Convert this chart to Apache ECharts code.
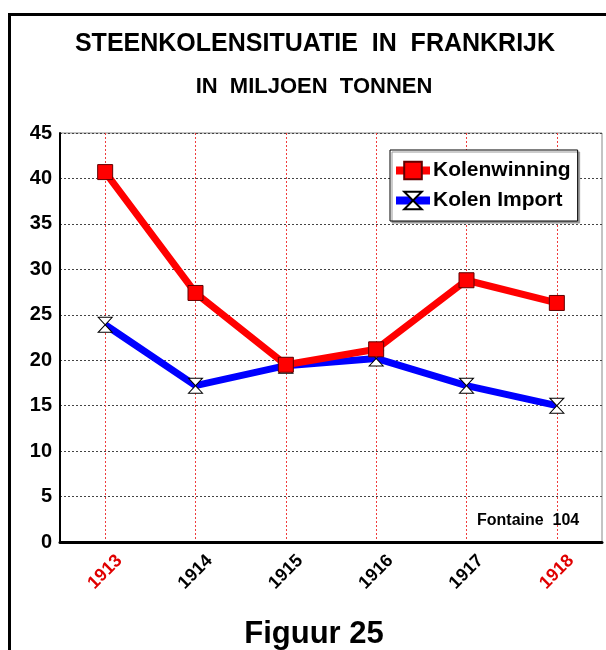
<!DOCTYPE html>
<html>
<head>
<meta charset="utf-8">
<script src="https://cdn.jsdelivr.net/npm/echarts@6/dist/echarts.min.js"></script>
<style>html,body{margin:0;padding:0;background:#fff}#c{width:606px;height:650px}</style>
</head>
<body>
<div id="c"></div>
<script>
const years = ['1913', '1914', '1915', '1916', '1917', '1918'];
const redYears = ['1913', '1918'];
const kolenwinning = [40.7, 27.4, 19.5, 21.2, 28.8, 26.3];
const kolenImport = [23.9, 17.2, 19.4, 20.2, 17.2, 15.0];
const yTicks = { min: 0, max: 45, interval: 5 };

const FONT = '"Liberation Sans", Arial, sans-serif';
const chart = echarts.init(document.getElementById('c'), null, { renderer: 'canvas' });
chart.setOption({
  animation: false,
  backgroundColor: '#fff',
  graphic: [
    { type: 'rect', z: 0, shape: { x: 9.5, y: 14.5, width: 700, height: 700 }, style: { fill: null, stroke: '#000', lineWidth: 3 } },
    { type: 'text', x: 315, y: 32, style: { text: 'STEENKOLENSITUATIE  IN  FRANKRIJK', font: 'bold 25px ' + FONT, fill: '#000', align: 'center', verticalAlign: 'top' } },
    { type: 'text', x: 314, y: 76, style: { text: 'IN  MILJOEN  TONNEN', font: 'bold 22px ' + FONT, fill: '#000', align: 'center', verticalAlign: 'top' } },
    { type: 'text', x: 477, y: 513, z: 10, style: { text: 'Fontaine  104', font: 'bold 16px ' + FONT, fill: '#000', align: 'left', verticalAlign: 'top' } },
    { type: 'text', x: 314, y: 619, style: { text: 'Figuur 25', font: 'bold 31px ' + FONT, fill: '#000', align: 'center', verticalAlign: 'top' } }
  ],
  grid: { left: 60, right: 4, top: 133, bottom: 108, show: true, borderColor: '#888', borderWidth: 1, backgroundColor: '#fff' },
  legend: {
    orient: 'vertical', left: 390, top: 150,
    padding: [10, 7, 10, 2], itemGap: 9, itemWidth: 34, itemHeight: 22,
    backgroundColor: '#fff', borderColor: '#000', borderWidth: 1,
    shadowColor: '#999', shadowOffsetX: 2, shadowOffsetY: 2, shadowBlur: 0,
    lineStyle: { width: 8 },
    textStyle: { fontFamily: FONT, fontWeight: 'bold', fontSize: 21, color: '#000', padding: [0, 0, 0, -2] },
    data: ['Kolenwinning', 'Kolen Import']
  },
  xAxis: {
    type: 'category', data: years, boundaryGap: true,
    axisLine: { show: true, lineStyle: { color: '#000', width: 3 } },
    axisTick: { show: false, alignWithLabel: true },
    splitLine: { show: true, alignWithLabel: true, lineStyle: { color: '#f03c3c', width: 1, type: [2, 2] } },
    axisLabel: {
      rotate: 45, margin: 30, align: 'center', verticalAlign: 'middle',
      fontFamily: FONT, fontWeight: 'bold', fontSize: 18,
      formatter: v => redYears.includes(v) ? '{r|' + v + '}' : '{k|' + v + '}',
      rich: {
        r: { color: '#e00000', fontFamily: FONT, fontWeight: 'bold', fontSize: 18 },
        k: { color: '#000', fontFamily: FONT, fontWeight: 'bold', fontSize: 18 }
      }
    }
  },
  yAxis: {
    type: 'value', min: yTicks.min, max: yTicks.max, interval: yTicks.interval,
    axisLine: { show: true, lineStyle: { color: '#000', width: 2 } },
    axisTick: { show: false },
    splitLine: { show: true, lineStyle: { color: '#444', width: 1, type: [2, 2] } },
    axisLabel: { margin: 8, fontFamily: FONT, fontWeight: 'bold', fontSize: 20, color: '#000' }
  },
  series: [
    {
      name: 'Kolenwinning', type: 'line', data: kolenwinning, z: 4,
      symbol: 'rect', symbolSize: 15,
      lineStyle: { color: '#ff0000', width: 7 },
      itemStyle: { color: '#ff0000', borderColor: '#600000', borderWidth: 1 }
    },
    {
      name: 'Kolen Import', type: 'line', data: kolenImport, z: 3,
      symbol: 'path://M0,0 L10,0 L0,10 L10,10 Z', symbolSize: [14, 15], symbolKeepAspect: false,
      lineStyle: { color: '#0000ff', width: 7 },
      itemStyle: { color: '#ffffff', borderColor: '#000', borderWidth: 1 }
    }
  ]
});
</script>
</body>
</html>
